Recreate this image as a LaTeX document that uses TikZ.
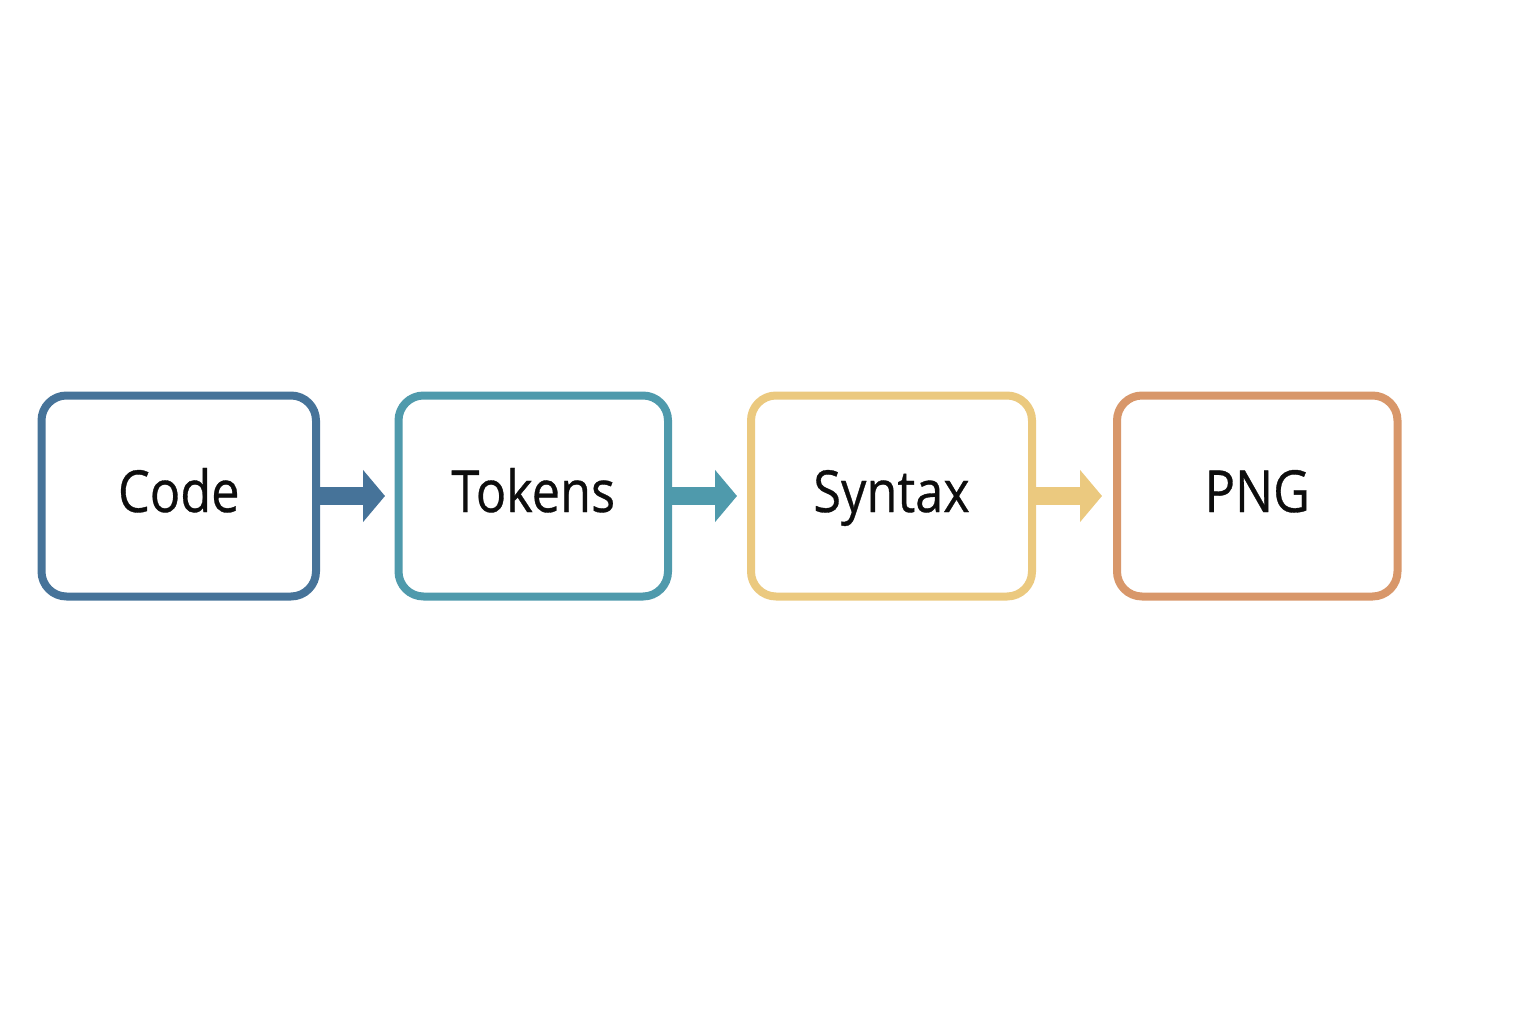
\documentclass[tikz,border=0pt]{standalone}
\usepackage{fontspec}
\setmainfont{Open Sans}
\newfontfamily\lblfont[FakeBold=0.6]{Open Sans}
\usetikzlibrary{arrows.meta,calc}
\definecolor{cBlue}{HTML}{467399}
\definecolor{cTeal}{HTML}{4F9AAC}
\definecolor{cGold}{HTML}{EBC97F}
\definecolor{cOrange}{HTML}{D8976A}
\newcommand{\lbl}[1]{\scalebox{0.87}[1]{#1}}
\tikzset{
  stagebox/.style={draw=#1, line width=8pt, rounded corners=25pt, fill=white,
    minimum height=201pt, inner sep=0pt, text height=42pt, text depth=10pt,
    font=\lblfont\fontsize{58}{60}\selectfont, text=black!95},
  blockarrow/.style={draw=#1, line width=18pt,
    -{Triangle[length=22pt,width=51pt,fill=#1]}}
}
\begin{document}
\begin{tikzpicture}[x=1pt,y=-1pt]
\useasboundingbox (0,0) rectangle (1536,1024);
\node[stagebox=cBlue, minimum width=274.5pt] (code) at (178.75,496) {\lbl{Code}};
\node[stagebox=cTeal, minimum width=269.5pt] (tokens) at (533.25,496) {\lbl{Tokens}};
\node[stagebox=cGold, minimum width=281pt] (syntax) at (891.5,496) {\lbl{Syntax}};
\node[stagebox=cOrange, minimum width=280.5pt] (png) at (1257.25,496) {\lbl{PNG}};
\draw[blockarrow=cBlue] (code.east) -- ($(tokens.west)+(-9.5,0)$);
\draw[blockarrow=cTeal] (tokens.east) -- ($(syntax.west)+(-10,0)$);
\draw[blockarrow=cGold] (syntax.east) -- ($(png.west)+(-11,0)$);
\end{tikzpicture}
\end{document}
